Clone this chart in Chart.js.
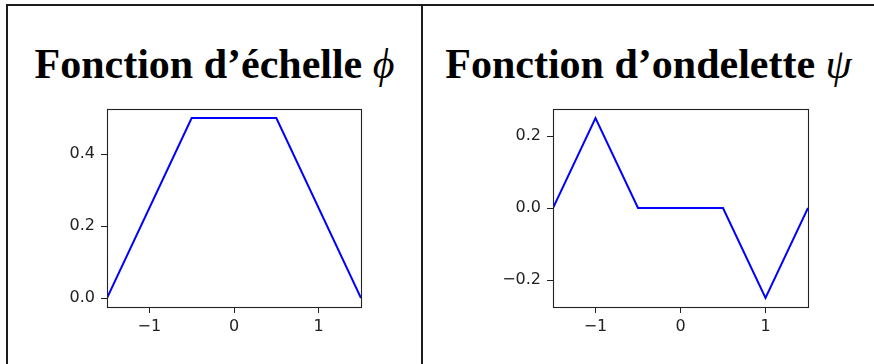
<!DOCTYPE html>
<html>
<head>
<meta charset="utf-8">
<script src="https://cdn.jsdelivr.net/npm/chart.js@4/dist/chart.umd.min.js"></script>
<style>
  body { margin: 0; background: #fff; }
  #page { position: relative; width: 874px; height: 364px; overflow: hidden; }
  .rule { position: absolute; background: #1c1c1c; }
  .title {
    position: absolute; top: 40px; height: 48px; line-height: 48px;
    font-family: "Liberation Serif", serif; font-weight: bold; font-size: 42px;
    text-align: center; white-space: nowrap; color: #000;
  }
  .title i { font-weight: normal; }
  canvas { position: absolute; }
</style>
</head>
<body>
<div id="page">
  <div class="rule" style="left:6px; top:4px; width:868px; height:2px;"></div>
  <div class="rule" style="left:6px; top:4px; width:2px; height:360px;"></div>
  <div class="rule" style="left:421px; top:4px; width:2px; height:360px;"></div>

  <div class="title" style="left:8px; width:413px;">Fonction d’échelle <i>ϕ</i></div>
  <div class="title" style="left:423px; width:451px;">Fonction d’ondelette <i>ψ</i></div>

  <canvas id="phi-chart" width="421" height="264" style="left:0; top:100px;"></canvas>
  <canvas id="psi-chart" width="451" height="264" style="left:423px; top:100px;"></canvas>
</div>

<script>
// scaling function phi (plateau)
const phiX = [-1.5, -0.5, 0.5, 1.5];
const phiY = [0, 0.5, 0.5, 0];

// wavelet psi
const psiX = [-1.5, -1, -0.5, 0.5, 1, 1.5];
const psiY = [0, 0.25, 0, 0, -0.25, 0];

// tick labels
const xTicks = [-1, 0, 1];
const phiYTicks = [0, 0.2, 0.4];
const psiYTicks = [-0.2, 0, 0.2];

const minus = s => s.replace('-', '\u2212');

// matplotlib style 5% margin round the data
function range(vals) {
  const lo = Math.min(...vals), hi = Math.max(...vals);
  const pad = (hi - lo) * 0.05;
  return [lo - pad, hi + pad];
}

// draw the box round the plot area
const frame = {
  id: 'frame',
  afterDatasetsDraw(chart) {
    const a = chart.chartArea, ctx = chart.ctx;
    ctx.save();
    ctx.strokeStyle = '#222';
    ctx.lineWidth = 1.1;
    ctx.strokeRect(Math.round(a.left) + 0.5, Math.round(a.top) + 0.5,
      Math.round(a.right - a.left), Math.round(a.bottom - a.top));
    ctx.restore();
  }
};

// fixed axis box sizes, no extra padding for edge labels
function fixSize(s, w, h) {
  if (w != null) s.width = w;
  if (h != null) s.height = h;
  s.paddingTop = s.paddingBottom = s.paddingLeft = s.paddingRight = 0;
}

function makeChart(id, xs, ys, yTicks, yAxisWidth, rightPad) {
  const [ymin, ymax] = range(ys);
  const tickFont = { family: 'DejaVu Sans', size: 16 };
  const grid = { drawOnChartArea: false, drawTicks: true, tickLength: 6, tickColor: '#222', tickWidth: 1 };
  return new Chart(document.getElementById(id), {
    type: 'line',
    data: {
      datasets: [{
        data: xs.map((x, i) => ({ x: x, y: ys[i] })),
        borderColor: '#0000ff',
        borderWidth: 2,
        pointRadius: 0,
        tension: 0,
        fill: false
      }]
    },
    options: {
      responsive: false,
      animation: false,
      devicePixelRatio: 1,
      layout: { padding: { left: 0, right: rightPad, top: 9, bottom: 0 } },
      plugins: { legend: { display: false }, tooltip: { enabled: false } },
      scales: {
        x: {
          type: 'linear',
          min: Math.min(...xs),
          max: Math.max(...xs),
          afterBuildTicks: s => { s.ticks = xTicks.map(v => ({ value: v })); },
          afterFit: s => fixSize(s, null, 57),
          grid: grid,
          border: { display: false },
          ticks: { font: tickFont, color: '#222', padding: 4, maxRotation: 0,
                   callback: v => minus(String(v)) }
        },
        y: {
          min: ymin,
          max: ymax,
          afterBuildTicks: s => { s.ticks = yTicks.map(v => ({ value: v })); },
          afterFit: s => fixSize(s, yAxisWidth, null),
          grid: grid,
          border: { display: false },
          ticks: { font: tickFont, color: '#222', padding: 6,
                   callback: v => minus(v.toFixed(1)) }
        }
      }
    },
    plugins: [frame]
  });
}

makeChart('phi-chart', phiX, phiY, phiYTicks, 107, 60);
makeChart('psi-chart', psiX, psiY, psiYTicks, 130, 66);
</script>
</body>
</html>
